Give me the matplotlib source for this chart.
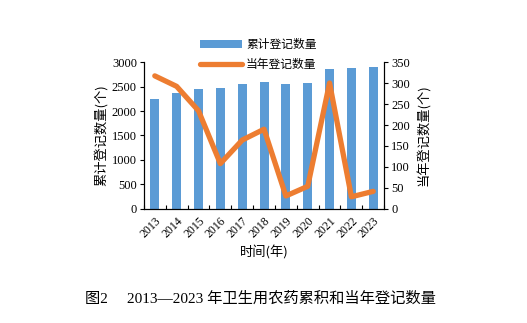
import matplotlib
matplotlib.use("Agg")
import matplotlib.pyplot as plt
import numpy as np

years = ["2013", "2014", "2015", "2016", "2017", "2018", "2019", "2020", "2021", "2022", "2023"]
cumulative = [2248, 2358, 2453, 2474, 2556, 2597, 2556, 2576, 2863, 2884, 2904]
annual = [317, 292, 234, 108, 164, 190, 31, 54, 300, 29, 42]

cjk = ['Noto Sans CJK SC', 'DejaVu Sans']
serif = ['Liberation Serif', 'DejaVu Serif']

fig = plt.figure(figsize=(5.27, 3.23), dpi=100)
ax = fig.add_axes([0.273, 0.353, 0.456, 0.455])
ax2 = ax.twinx()

x = np.arange(len(years))
b = ax.bar(x, cumulative, width=0.41, color='#5B9BD5', label='累计登记数量', zorder=2)
l, = ax2.plot(x, annual, color='#ED7D31', lw=3.8, label='当年登记数量', solid_capstyle='round', zorder=3)

ax.set_xlim(-0.5, len(years) - 0.5)
ax.set_ylim(0, 3000)
ax.set_yticks(range(0, 3001, 500))
ax2.set_ylim(0, 350)
ax2.set_yticks(range(0, 351, 50))

ax.set_xticks(x)
ax.set_xticklabels(years, rotation=45, ha='right', rotation_mode='anchor', fontfamily=serif, fontsize=8.5)
ax.tick_params(axis='x', length=0, pad=4)
ax.set_xticks(np.arange(-0.5, len(years), 1), minor=True)
ax.tick_params(axis='x', which='minor', direction='in', length=3, width=0.8)

for a in (ax, ax2):
    a.spines['top'].set_visible(False)
    for s in a.spines.values():
        s.set_linewidth(0.8)
        s.set_color('black')
for t in ax.get_yticklabels() + ax2.get_yticklabels():
    t.set_fontfamily(serif)
    t.set_fontsize(9)
ax.tick_params(axis='y', length=3, width=0.8, pad=2)
ax2.tick_params(axis='y', length=3, width=0.8, pad=2)

ax.set_ylabel('累计登记数量(个)', fontfamily=cjk, fontsize=9.5, labelpad=3)
ax2.set_ylabel('当年登记数量(个)', fontfamily=cjk, fontsize=9.5, labelpad=5)
ax.set_xlabel('时间(年)', fontfamily=cjk, fontsize=9.5, labelpad=4)

leg = fig.legend([b, l], ['累计登记数量', '当年登记数量'], loc='center', bbox_to_anchor=(0.49, 0.83),
                 frameon=False, prop={'family': cjk, 'size': 8.5}, handlelength=3.6,
                 labelspacing=0.6, handletextpad=0.3)

fig.text(0.495, 0.075, '图2\u2003 2013—2023 年卫生用农药累积和当年登记数量', ha='center', va='center',
         fontfamily=['Liberation Serif', 'Noto Sans CJK SC'], fontsize=11)

fig.savefig('out.png', dpi=100)
